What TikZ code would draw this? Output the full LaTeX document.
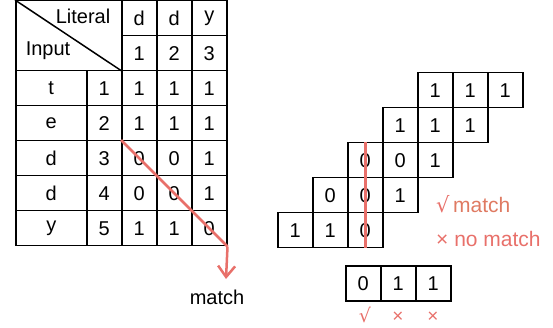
\documentclass[tikz,border=0pt]{standalone}
\usepackage{fontspec}
\setmainfont{Liberation Sans}
\newfontfamily\symfont{DejaVu Sans}
\usetikzlibrary{arrows.meta}
\definecolor{redc}{HTML}{E8706A}
\definecolor{matchc}{HTML}{DF7A62}
\begin{document}
\begin{tikzpicture}[x=1pt,y=-1pt,
  cell/.style={draw=black,line width=1.5pt,minimum width=35pt,minimum height=35pt,inner sep=0pt,anchor=north west,font=\fontsize{20}{20}\selectfont},
  wide/.style={cell,minimum width=71pt},
  lbl/.style={font=\fontsize{20}{20}\selectfont,inner sep=0pt},
  legend/.style={anchor=west,inner sep=0pt,font=\fontsize{21}{21}\selectfont},
  redline/.style={draw=redc,line width=2.5pt},
  okmark/.style={text=redc,font=\fontsize{19}{19}\selectfont,inner sep=0pt}]
\useasboundingbox (0,0) rectangle (553,328);
% ---------- left table ----------
\node[cell,minimum width=106pt,minimum height=70pt] (hdr) at (15,0) {};
\draw[line width=1.5pt] (hdr.north west) -- (hdr.south east);
\node[lbl] (lit) at (83,16) {Literal};
\node[lbl] (inp) at (48,51) {Input};
\node[cell] (h11) at (121,0) {d};
\node[cell] (h12) at (156,0) {d};
\node[cell] (h13) at (191,0) {y};
\node[cell] (h21) at (121,35) {1};
\node[cell] (h22) at (156,35) {2};
\node[cell] (h23) at (191,35) {3};
\foreach \r/\ch/\a/\b/\c [count=\i] in {t/1/1/1, e/1/1/1, d/0/0/1, d/0/0/1, y/1/1/0}{
  \pgfmathsetmacro{\yy}{70+35*(\i-1)}
  \node[wide] (L\i) at (15,\yy) {\r};
  \node[cell] (N\i) at (86,\yy) {\i};
  \node[cell] (A\i) at (121,\yy) {\ch};
  \node[cell] (B\i) at (156,\yy) {\a};
  \node[cell] (C\i) at (191,\yy) {\b};
}
\coordinate (arrowend) at (226,279);
\draw[redline] (A3.north west) -- (C5.south east);
\draw[redline,-{Straight Barb[length=11pt,width=17pt,line width=2.5pt]}] (C5.south east) -- (arrowend);
\node[lbl] (m1) at (217,297) {match};
% ---------- right staircase ----------
\node[cell] (r11) at (417,72) {1};
\node[cell] (r12) at (452,72) {1};
\node[cell] (r13) at (487,72) {1};
\node[cell] (r21) at (382,107) {1};
\node[cell] (r22) at (417,107) {1};
\node[cell] (r23) at (452,107) {1};
\node[cell] (r31) at (347,142) {0};
\node[cell] (r32) at (382,142) {0};
\node[cell] (r33) at (417,142) {1};
\node[cell] (r41) at (312,177) {0};
\node[cell] (r42) at (347,177) {0};
\node[cell] (r43) at (382,177) {1};
\node[cell] (r51) at (277,212) {1};
\node[cell] (r52) at (312,212) {1};
\node[cell] (r53) at (347,212) {0};
\draw[redline] (r31.north) -- (r53.south);
\node[legend] (leg1) at (436,204) {\textcolor{redc}{\symfont √}\,\textcolor{matchc}{match}};
\node[legend,text=redc] (leg2) at (436,239) {× no match};
% ---------- result row ----------
\node[cell] (s1) at (345,265) {0};
\node[cell] (s2) at (380,265) {1};
\node[cell] (s3) at (415,265) {1};
\node[okmark] (k1) at (365,315) {\symfont √};
\node[okmark] (k2) at (398,317) {×};
\node[okmark] (k3) at (433,317) {×};
\end{tikzpicture}
\end{document}
